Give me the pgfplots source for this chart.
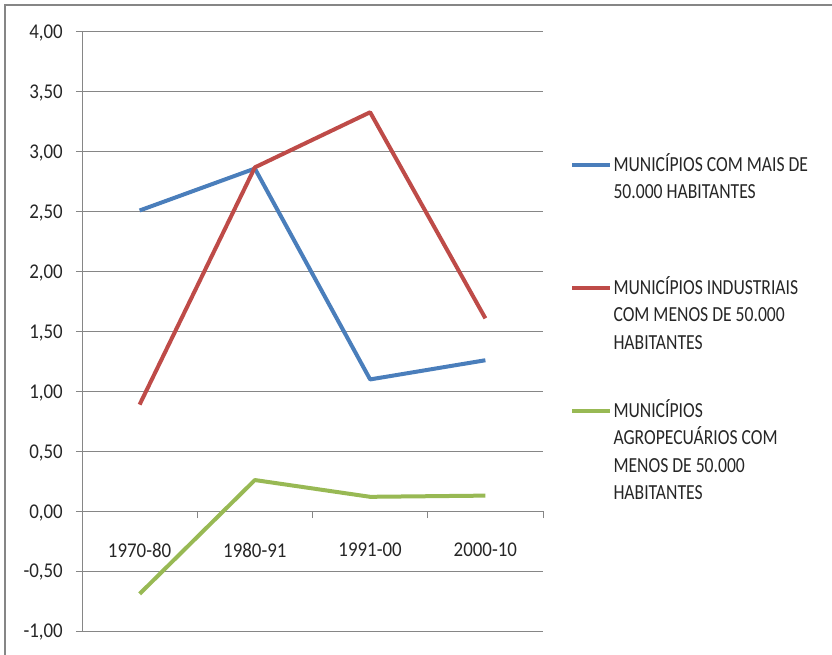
\documentclass[border=0pt]{standalone}
\usepackage{fontspec}
\setmainfont{Carlito}
\newfontfamily\tickfont[FakeStretch=0.9]{Carlito}
\newfontfamily\legfont[FakeStretch=0.82]{Carlito}
\usepackage{pgfplots}
\pgfplotsset{compat=1.18}
\definecolor{sblue}{HTML}{4A7EBB}
\definecolor{sred}{HTML}{BE4B48}
\definecolor{sgreen}{HTML}{98B954}
\definecolor{gridgray}{HTML}{868686}
\begin{document}
\begin{tikzpicture}
\useasboundingbox (0,0) rectangle (832bp,655bp);
\draw[gridgray, line width=2bp] (5bp,0) -- (5bp,650bp) -- (840bp,650bp);
\begin{axis}[
  anchor=south west, at={(82bp,24bp)},
  width=461bp, height=599bp, scale only axis,
  xmin=-0.5, xmax=3.5, ymin=-1, ymax=4,
  axis x line*=middle, axis y line*=left,
  axis line style={gridgray, line width=1bp},
  ytick={-1,-0.5,...,4},
  ymajorgrids, grid style={gridgray, line width=1bp},
  xtick={0,1,2,3},
  xticklabels={1970-80,1980-91,1991-00,2000-10},
  minor xtick={0.5,1.5,2.5,3.5},
  major tick length=6bp, minor tick length=7bp,
  tick align=outside,
  tick style={gridgray, line width=1bp},
  major x tick style={draw=none},
  tick label style={font=\tickfont\fontsize{21bp}{24bp}\selectfont, text=black!85},
  /pgf/number format/assume math mode=true,
  yticklabel style={/pgf/number format/.cd, fixed, fixed zerofill, precision=2, use comma, /tikz/.cd, anchor=east, inner sep=0pt, text depth=0pt, xshift=-13bp},
  xticklabel style={anchor=north, inner sep=0pt, text depth=0pt, yshift=-25.5bp},
  legend style={at={(1.0586,0.8026)}, anchor=north west, draw=none, fill=none, inner sep=0pt, outer sep=0pt, row sep=0pt, column sep=1.5bp, cells={anchor=north west}, nodes={inner sep=0pt, outer sep=0pt, text depth={}, font=\legfont\fontsize{21.5bp}{27.5bp}\selectfont, text=black!85}},
  legend image code/.code={\path (0bp,0bp); \draw[#1] (0bp,-12.5bp) -- (38bp,-12.5bp);},
  every axis plot/.append style={line width=4bp, line join=round},
]
\addplot[sblue] coordinates {(0,2.51) (1,2.86) (2,1.10) (3,1.26)};
\addlegendentry{\parbox[t][121bp][t]{230bp}{\strut MUNICÍPIOS COM MAIS DE\\50.000 HABITANTES}}
\addplot[sred] coordinates {(0,0.89) (1,2.87) (2,3.33) (3,1.61)};
\addlegendentry{\parbox[t][121bp][t]{230bp}{\strut MUNICÍPIOS INDUSTRIAIS\\COM MENOS DE 50.000\\HABITANTES}}
\addplot[sgreen] coordinates {(0,-0.69) (1,0.26) (2,0.12) (3,0.13)};
\addlegendentry{\parbox[t][121bp][t]{230bp}{\strut MUNICÍPIOS\\AGROPECUÁRIOS COM\\MENOS DE 50.000\\HABITANTES}}
\end{axis}
\end{tikzpicture}
\end{document}
